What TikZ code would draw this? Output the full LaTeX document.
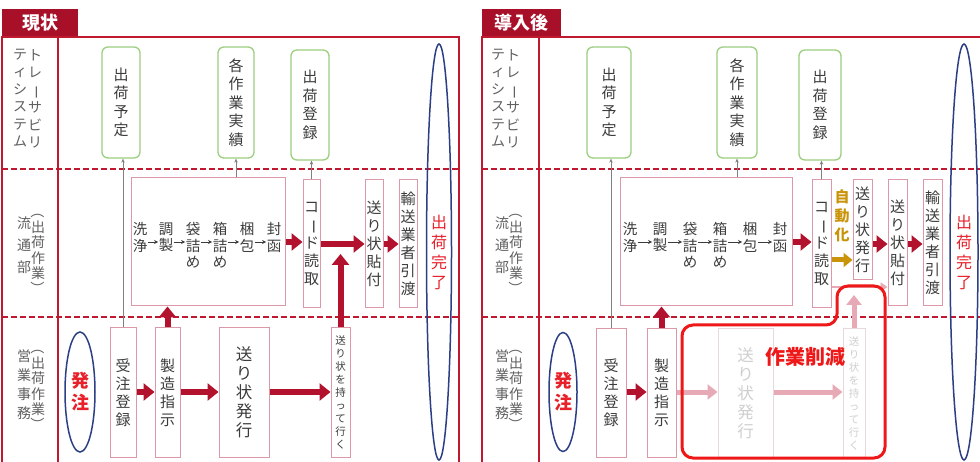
\documentclass[tikz,border=0pt]{standalone}
\usepackage{fontspec}
\setmainfont{Noto Sans CJK JP}
\usetikzlibrary{arrows.meta,shapes.geometric}
\definecolor{framered}{HTML}{C0182E}
\definecolor{tabred}{HTML}{A80F28}
\definecolor{arrred}{HTML}{B3122E}
\definecolor{pinkbox}{HTML}{DC98A6}
\definecolor{greenbox}{HTML}{9CCF7E}
\definecolor{txtgray}{HTML}{3C3C3C}
\definecolor{lblgray}{HTML}{606060}
\definecolor{blueell}{HTML}{2C3E84}
\definecolor{goldc}{HTML}{C9940A}
\definecolor{palepink}{HTML}{E6A9B5}
\definecolor{fadeline}{HTML}{E8D8DB}
\definecolor{fadetext}{HTML}{CFCFCF}
\definecolor{cutred}{HTML}{EE1818}
\definecolor{donered}{HTML}{E8202A}
\newcommand{\VB}{\rotatebox[origin=c]{-90}{ー}}
\newcommand{\VL}{\rotatebox[origin=c]{-90}{（}}
\newcommand{\VR}{\rotatebox[origin=c]{-90}{）}}
\begin{document}
\begin{tikzpicture}[x=1pt,y=-1pt,
  vt/.style={align=center, text=txtgray, inner sep=0.5pt, font=\fontsize{14.5}{16.5}\selectfont},
  lanelbl/.style={align=center, text=lblgray, inner sep=0pt, font=\fontsize{14}{17.5}\selectfont},
  gbox/.style={draw=greenbox, line width=1.3pt, rounded corners=6pt, inner sep=0pt, align=center, text=txtgray, font=\fontsize{15}{18.5}\selectfont},
  pbox/.style={draw=pinkbox, line width=1pt, inner sep=0pt, align=center, text=txtgray, font=\fontsize{15}{18}\selectfont},
  fbox/.style={draw=fadeline, line width=1pt, inner sep=0pt, align=center, text=fadetext, font=\fontsize{15}{18}\selectfont},
  frame/.style={draw=framered, line width=2.4pt},
  lanesep/.style={draw=framered, line width=2.4pt, dash pattern=on 6pt off 3pt},
  tabbox/.style={fill=tabred, text=white, font=\fontsize{18}{20}\selectfont\bfseries, inner sep=0pt},
  bigarr/.style={draw=arrred, line width=6pt, -{Triangle[length=11pt,width=17pt]}},
  palearr/.style={draw=palepink, line width=5pt, -{Triangle[length=10pt,width=15pt]}},
  palethin/.style={draw=palepink, line width=2.5pt, -{Triangle[length=7pt,width=9pt]}},
  goldarr/.style={draw=goldc, line width=5pt, -{Triangle[length=9pt,width=14pt]}},
  grayarr/.style={draw=gray, line width=0.8pt, -{Stealth[length=4pt,width=3.5pt]}},
  wordarr/.style={draw=txtgray, line width=0.9pt, -{Stealth[length=4pt,width=4pt]}},
  ell/.style={draw=blueell, line width=1.5pt, ellipse, inner sep=0pt, align=center},
]
\useasboundingbox (0,0) rectangle (980,462);
\fill[white] (0,0) rectangle (980,462);

% ================= LEFT PANEL (現状) =================
\node[tabbox, minimum width=76pt, minimum height=28pt] (tabL) at (40,23) {現状};
\draw[frame] (2,37) rectangle (459,475);
\draw[frame] (58,37) -- (58,475);
\draw[lanesep] (2,169) -- (459,169);
\draw[lanesep] (2,317) -- (459,317);

% lane labels
\node[lanelbl] (l1a) at (35,99) {ト\\レ\\\VB\\サ\\ビ\\リ};
\node[lanelbl] (l1b) at (20,98) {テ\\ィ\\シ\\ス\\テ\\ム};
\node[lanelbl, font=\fontsize{14}{15.5}\selectfont] (l2a) at (38,250) {\VL\\出\\荷\\作\\業\\\VR};
\node[lanelbl, font=\fontsize{14}{22}\selectfont] (l2b) at (24,245) {流\\通\\部};
\node[lanelbl, font=\fontsize{14}{15.5}\selectfont] (l3a) at (38,386) {\VL\\出\\荷\\作\\業\\\VR};
\node[lanelbl, font=\fontsize{14}{19}\selectfont] (l3b) at (24,385) {営\\業\\事\\務};

% system boxes
\node[gbox, minimum width=38pt, minimum height=111pt] (g1) at (121,102.5) {出\\荷\\予\\定};
\node[gbox, minimum width=36pt, minimum height=111pt] (g2) at (236,102.5) {各\\作\\業\\実\\績};
\node[gbox, minimum width=38pt, minimum height=110pt] (g3) at (310,105) {出\\荷\\登\\録};

% process box
\node[pbox, minimum width=154pt, minimum height=128pt] (p1) at (208,242) {};
\node[vt, anchor=north] (w11) at (140,222) {洗\\浄};
\node[vt, anchor=north] (w12) at (166,222) {調\\製};
\node[vt, anchor=north] (w13) at (193,222) {袋\\詰\\め};
\node[vt, anchor=north] (w14) at (220,222) {箱\\詰\\め};
\node[vt, anchor=north] (w15) at (247,222) {梱\\包};
\node[vt, anchor=north] (w16) at (274,222) {封\\函};
\coordinate (ay1) at (0,242);
\draw[wordarr] (w11.east |- ay1) -- (w12.west |- ay1);
\draw[wordarr] (w12.east |- ay1) -- (w13.west |- ay1);
\draw[wordarr] (w13.east |- ay1) -- (w14.west |- ay1);
\draw[wordarr] (w14.east |- ay1) -- (w15.west |- ay1);
\draw[wordarr] (w15.east |- ay1) -- (w16.west |- ay1);

\node[pbox, minimum width=17pt, minimum height=128pt] (c1) at (311.5,244) {コ\\\VB\\ド\\読\\取};
\node[pbox, minimum width=18pt, minimum height=128pt] (h1) at (374,244) {送\\り\\状\\貼\\付};
\node[pbox, minimum width=18pt, minimum height=128pt] (y1) at (408,244) {輸\\送\\業\\者\\引\\渡};

% sales lane
\node[pbox, minimum width=26pt, minimum height=129pt] (j1) at (123,392.5) {受\\注\\登\\録};
\node[pbox, minimum width=25pt, minimum height=129pt] (s1) at (167.5,392.5) {製\\造\\指\\示};
\node[pbox, minimum width=50pt, minimum height=129pt, font=\fontsize{16.5}{19}\selectfont] (hk1) at (244,392.5) {送\\り\\状\\発\\行};
\node[pbox, minimum width=19pt, minimum height=129pt, font=\fontsize{10.5}{13}\selectfont] (m1) at (340.5,392.5) {送\\り\\状\\を\\持\\っ\\て\\行\\く};

% ellipses
\node[ell, minimum width=25pt, minimum height=416pt, text=donered, font=\fontsize{16}{20}\selectfont] (e1) at (439,252) {出\\荷\\完\\了};
\node[ell, minimum width=30pt, minimum height=120pt, text=donered, font=\fontsize{18}{22}\selectfont\bfseries] (o1) at (80,392) {発\\注};

% connectors
\draw[grayarr] (j1.north) -- (j1.north |- g1.south);
\draw[grayarr] (p1.north -| g2.south) -- (g2.south);
\draw[grayarr] (c1.north) -- (c1.north |- g3.south);
\coordinate (ay2) at (0,244);
\coordinate (ay3) at (0,392);
\draw[bigarr] (p1.east |- ay1) -- (c1.west |- ay1);
\draw[bigarr] (c1.east |- ay2) -- (h1.west |- ay2);
\draw[bigarr] (h1.east |- ay2) -- (y1.west |- ay2);
\draw[bigarr] (j1.east |- ay3) -- (s1.west |- ay3);
\draw[bigarr] (s1.east |- ay3) -- (hk1.west |- ay3);
\draw[bigarr] (hk1.east |- ay3) -- (m1.west |- ay3);
\draw[bigarr] (s1.north) -- (s1.north |- p1.south);
\coordinate (up1) at (340.5,254);
\draw[bigarr] (m1.north) -- (up1);

% ================= RIGHT PANEL (導入後) =================
\node[tabbox, minimum width=79pt, minimum height=28pt] (tabR) at (521.5,23) {導入後};
\draw[frame] (482,475) -- (482,37) -- (990,37);
\draw[frame] (539,37) -- (539,475);
\draw[lanesep] (482,169) -- (990,169);
\draw[lanesep] (482,317) -- (990,317);

\node[lanelbl] (r1a) at (513,99) {ト\\レ\\\VB\\サ\\ビ\\リ};
\node[lanelbl] (r1b) at (498,98) {テ\\ィ\\シ\\ス\\テ\\ム};
\node[lanelbl, font=\fontsize{14}{15.5}\selectfont] (r2a) at (516,250) {\VL\\出\\荷\\作\\業\\\VR};
\node[lanelbl, font=\fontsize{14}{22}\selectfont] (r2b) at (502,245) {流\\通\\部};
\node[lanelbl, font=\fontsize{14}{15.5}\selectfont] (r3a) at (516,386) {\VL\\出\\荷\\作\\業\\\VR};
\node[lanelbl, font=\fontsize{14}{19}\selectfont] (r3b) at (502,385) {営\\業\\事\\務};

\node[gbox, minimum width=44pt, minimum height=111pt] (g4) at (609,102.5) {出\\荷\\予\\定};
\node[gbox, minimum width=40pt, minimum height=111pt] (g5) at (737,102.5) {各\\作\\業\\実\\績};
\node[gbox, minimum width=42pt, minimum height=110pt] (g6) at (820,105) {出\\荷\\登\\録};

\node[pbox, minimum width=172pt, minimum height=128pt] (p2) at (706,242) {};
\node[vt, anchor=north] (w21) at (630,222) {洗\\浄};
\node[vt, anchor=north] (w22) at (660,222) {調\\製};
\node[vt, anchor=north] (w23) at (690,222) {袋\\詰\\め};
\node[vt, anchor=north] (w24) at (720,222) {箱\\詰\\め};
\node[vt, anchor=north] (w25) at (750,222) {梱\\包};
\node[vt, anchor=north] (w26) at (780,222) {封\\函};
\draw[wordarr] (w21.east |- ay1) -- (w22.west |- ay1);
\draw[wordarr] (w22.east |- ay1) -- (w23.west |- ay1);
\draw[wordarr] (w23.east |- ay1) -- (w24.west |- ay1);
\draw[wordarr] (w24.east |- ay1) -- (w25.west |- ay1);
\draw[wordarr] (w25.east |- ay1) -- (w26.west |- ay1);

\node[pbox, minimum width=19pt, minimum height=128pt] (c2) at (821.5,244) {コ\\\VB\\ド\\読\\取};
\node[pbox, minimum width=19pt, minimum height=100pt] (sh2) at (862.5,230) {送\\り\\状\\発\\行};
\node[pbox, minimum width=19pt, minimum height=126pt] (h2) at (897.5,243) {送\\り\\状\\貼\\付};
\node[pbox, minimum width=19pt, minimum height=126pt] (y2) at (932.5,243) {輸\\送\\業\\者\\引\\渡};
\node[align=center, text=goldc, inner sep=0pt, font=\fontsize{15}{19}\selectfont\bfseries] (auto) at (842,216) {自\\動\\化};

\node[pbox, minimum width=30pt, minimum height=128pt] (j2) at (611,393) {受\\注\\登\\録};
\node[pbox, minimum width=29pt, minimum height=128pt] (s2) at (661.5,393) {製\\造\\指\\示};
\node[fbox, minimum width=55pt, minimum height=128pt, font=\fontsize{16.5}{19}\selectfont] (hk2) at (745.5,393) {送\\り\\状\\発\\行};
\node[fbox, minimum width=22pt, minimum height=128pt, font=\fontsize{10.5}{13}\selectfont] (m2) at (854,393) {送\\り\\状\\を\\持\\っ\\て\\行\\く};

\node[ell, minimum width=28pt, minimum height=416pt, text=donered, font=\fontsize{16}{20}\selectfont] (e2) at (964,252) {出\\荷\\完\\了};
\node[ell, minimum width=28pt, minimum height=119pt, text=donered, font=\fontsize{18}{22}\selectfont\bfseries] (o2) at (563,392) {発\\注};

\draw[grayarr] (j2.north) -- (j2.north |- g4.south);
\draw[grayarr] (p2.north -| g5.south) -- (g5.south);
\draw[grayarr] (c2.north) -- (c2.north |- g6.south);
\coordinate (ga) at (0,260);
\coordinate (pa) at (0,287);
\draw[bigarr] (p2.east |- ay1) -- (c2.west |- ay1);
\draw[goldarr] (c2.east |- ga) -- (sh2.west |- ga);
\draw[bigarr] (sh2.east |- ay2) -- (h2.west |- ay2);
\draw[bigarr] (h2.east |- ay2) -- (y2.west |- ay2);
\draw[palethin] (c2.east |- pa) -- (h2.west |- pa);
\draw[bigarr] (j2.east |- ay3) -- (s2.west |- ay3);
\draw[bigarr] (s2.north) -- (s2.north |- p2.south);
\draw[palearr] (s2.east |- ay3) -- (hk2.west |- ay3);
\draw[palearr] (hk2.east |- ay3) -- (m2.west |- ay3);
\coordinate (up2) at (854,295);
\draw[palearr] (m2.north) -- (up2);

% reduced-work outline
\draw[draw=cutred, line width=3pt, rounded corners=11pt]
  (682,325) -- (837,325) -- (837,286) -- (885,286) -- (885,458) -- (682,458) -- cycle;
\node[text=cutred, inner sep=0pt, font=\fontsize{20}{22}\selectfont\bfseries] (cut) at (805,357) {作業削減};
\end{tikzpicture}
\end{document}
